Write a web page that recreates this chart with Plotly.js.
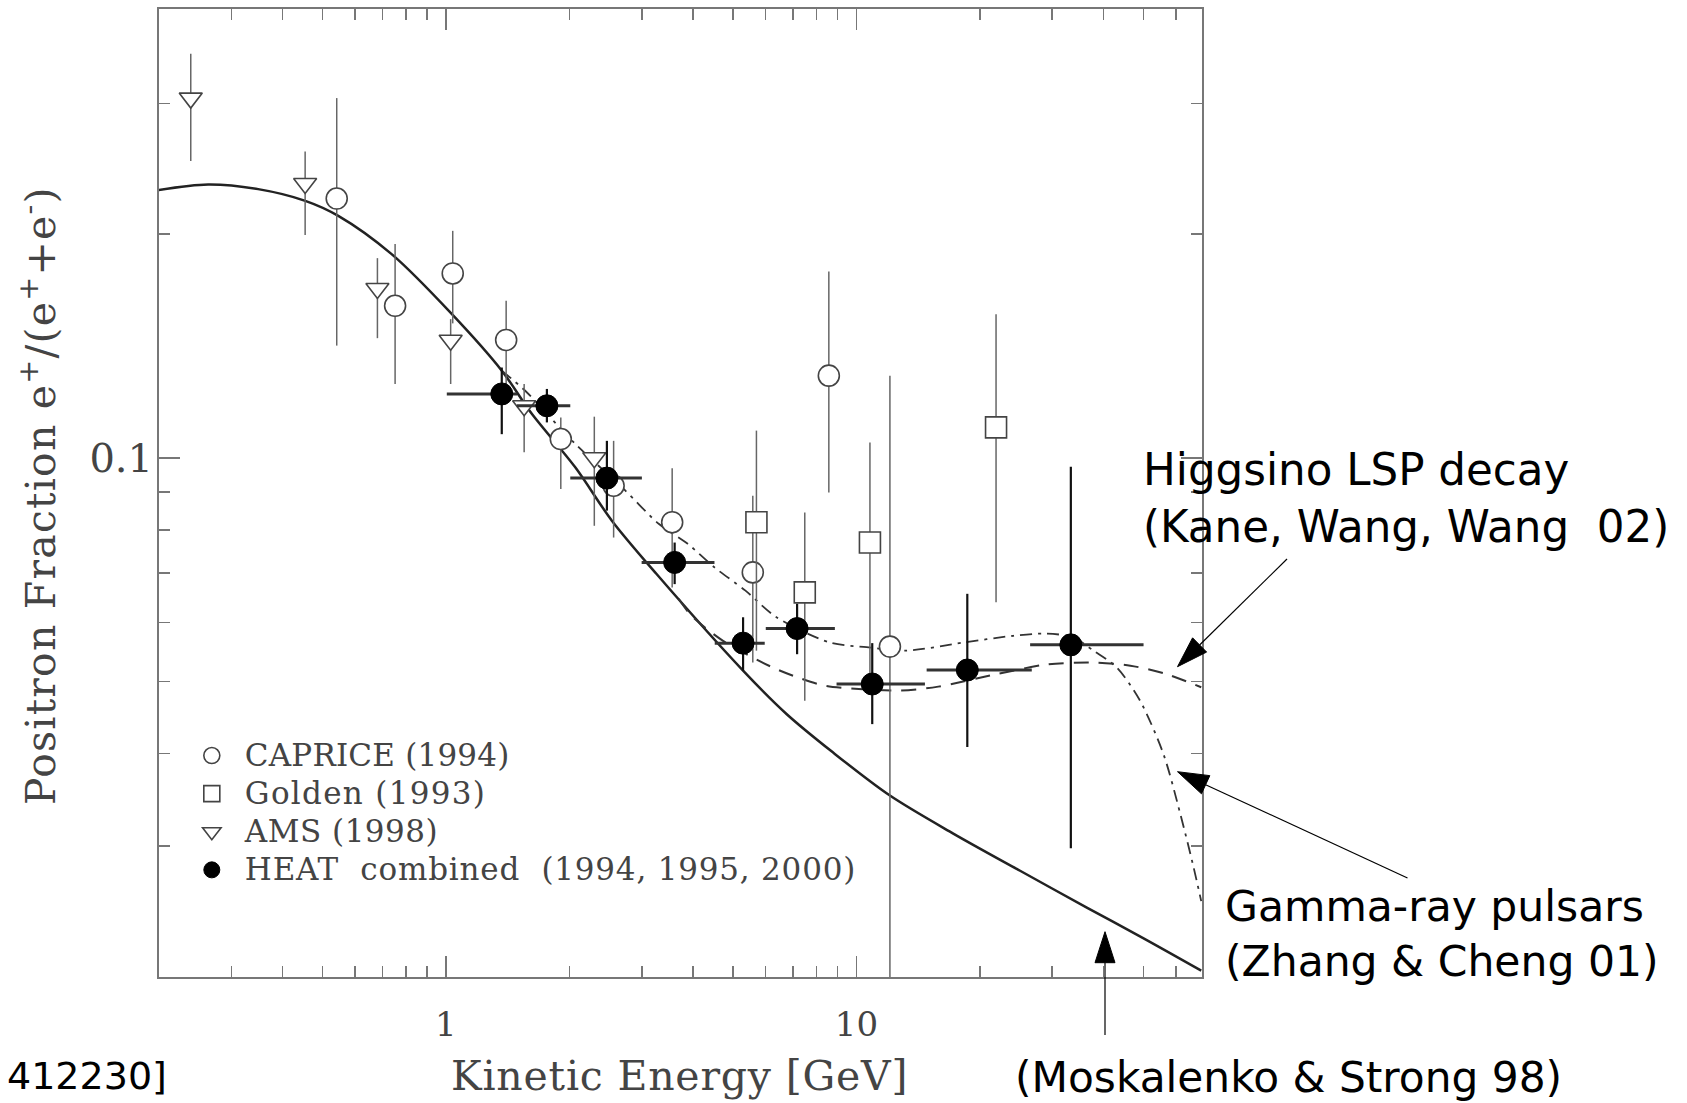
<!DOCTYPE html>
<html><head><meta charset="utf-8">
<script src="https://cdn.plot.ly/plotly-3.0.1.min.js"></script>
<style>html,body{margin:0;padding:0;background:#fff;}#chart{width:1687px;height:1103px;}</style>
</head><body><div id="chart"></div>
<script>
// ---- Data ----
// CAPRICE (1994)
const capE  = [0.542, 0.752, 1.039, 1.402, 1.905, 2.562, 3.558, 5.593, 8.568, 12.07];
const capY  = [0.2234, 0.1602, 0.1771, 0.1441, 0.1060, 0.0917, 0.0819, 0.0701, 0.1290, 0.0557];
const capHi = [0.305, 0.194, 0.2021, 0.1627, 0.1133, 0.1054, 0.0968, 0.0889, 0.1782, 0.129];
const capLo = [0.1416, 0.1257, 0.1517, 0.1257, 0.0908, 0.0781, 0.0669, 0.0530, 0.0898, 0.015];
// Golden (1993)
const golE  = [5.708, 7.486, 10.79, 21.89];
const golY  = [0.0819, 0.0659, 0.0769, 0.1099];
const golHi = [0.1088, 0.0844, 0.1049, 0.156];
const golLo = [0.055, 0.0471, 0.0486, 0.0639];
// AMS (1998)
const amsE  = [0.239, 0.454, 0.681, 1.027, 1.551, 2.299];
const amsY  = [0.305, 0.234, 0.169, 0.144, 0.1175, 0.1000];
const amsHi = [0.350, 0.2585, 0.1857, 0.1537, 0.1257, 0.1136];
const amsLo = [0.251, 0.1995, 0.1449, 0.1257, 0.1017, 0.081];
// HEAT combined (1994, 1995, 2000)
const heatE   = [1.368, 1.762, 2.467, 3.608, 5.296, 7.171, 10.93, 18.63, 33.3];
const heatY   = [0.1219, 0.1175, 0.0939, 0.0723, 0.0563, 0.0589, 0.0496, 0.0518, 0.0560];
const heatElo = [1.005, 1.488, 2.009, 2.998, 4.518, 6.015, 8.947, 14.83, 26.5];
const heatEhi = [1.492, 2.009, 3.002, 4.511, 5.98, 8.863, 14.69, 26.75, 50.07];
const heatHi  = [0.1323, 0.1238, 0.1054, 0.0769, 0.0610, 0.0636, 0.0563, 0.0656, 0.0973];
const heatLo  = [0.1076, 0.1116, 0.0849, 0.0676, 0.0517, 0.0544, 0.0438, 0.0408, 0.0298];
// Moskalenko & Strong 98 (solid)
const msE = [0.199, 0.2634, 0.3488, 0.4544, 0.5468, 0.7375, 1.033, 1.368, 1.619, 2.066, 2.537, 3.256, 5.296, 6.757, 8.778, 12.07, 17.22, 25.05, 36.42, 49.7, 69.2];
const msY = [0.2293, 0.2333, 0.2300, 0.2218, 0.2117, 0.1880, 0.1562, 0.1310, 0.1146, 0.0971, 0.0823, 0.0698, 0.0517, 0.0452, 0.0401, 0.0351, 0.0312, 0.0278, 0.0248, 0.0226, 0.0204];
// Higgsino LSP decay (dashed)
const hgE = [3.69, 3.963, 4.733, 6.212, 7.282, 8.459, 12.65, 15.83, 22.18, 29.1, 37.8, 46.5, 56.0, 69.2];
const hgY = [0.0646, 0.0613, 0.0567, 0.0523, 0.0505, 0.0493, 0.0486, 0.0492, 0.0512, 0.0527, 0.0530, 0.0525, 0.0513, 0.0491];
// Gamma-ray pulsars (dash-dot)
const grE = [1.368, 1.56, 2.066, 2.71, 3.299, 3.882, 4.511, 5.358, 6.388, 8.617, 10.59, 13.2, 18.22, 24.13, 29.1, 33.8, 37.8, 43.1, 49.1, 56.0, 61.5, 66.3, 69.2];
const grY = [0.1310, 0.1231, 0.1044, 0.0908, 0.0815, 0.0766, 0.0712, 0.0663, 0.0610, 0.0564, 0.0556, 0.0550, 0.0564, 0.0576, 0.0580, 0.0573, 0.0550, 0.0522, 0.0471, 0.0399, 0.0332, 0.0281, 0.0253];
// Ticks
const xMajor = [1, 10];
const xMajorText = ['1', '10'];
const xMinor = [0.3,0.4,0.5,0.6,0.7,0.8,0.9,2,3,4,5,6,7,8,9,20,30,40,50,60];
const yMajor = [0.1];
const yMajorText = ['0.1'];
const yMinor = [0.03,0.04,0.05,0.06,0.07,0.08,0.09,0.2,0.3];
// Legend names
const names = ['CAPRICE (1994)', 'Golden (1993)', 'AMS (1998)', 'HEAT\u00a0 combined\u00a0 (1994, 1995, 2000)'];
const nameSpacing = [0.2, 1.3, 0.5, 0.8];

const up = (hi, v) => hi.map((h, i) => h - v[i]);
const dn = (lo, v) => lo.map((l, i) => v[i] - l);
const legName = i => '<span style="font-size:31px;letter-spacing:' + nameSpacing[i] + 'px">' + names[i] + '</span>';

const thinErr = (hi, lo, v) => ({type:'data', symmetric:false, array: up(hi, v), arrayminus: dn(lo, v), color:'#666', thickness:1.5, width:0});

const traces = [
  {x: msE, y: msY, mode:'lines', line:{color:'#222', width:2.5, shape:'spline', smoothing:0.9}, showlegend:false, hoverinfo:'skip'},
  {x: hgE, y: hgY, mode:'lines', line:{color:'#333', width:2, dash:'15px,10px', shape:'spline', smoothing:0.8}, showlegend:false, hoverinfo:'skip'},
  {x: grE, y: grY, mode:'lines', line:{color:'#333', width:1.8, dash:'12px,6px,3px,6px', shape:'spline', smoothing:0.8}, showlegend:false, hoverinfo:'skip'},
  {x: capE, y: capY, name: legName(0), mode:'markers', marker:{symbol:'circle', size:21, color:'#fff', line:{color:'#444', width:1.6}}, error_y: thinErr(capHi, capLo, capY)},
  {x: golE, y: golY, name: legName(1), mode:'markers', marker:{symbol:'square', size:21, color:'#fff', line:{color:'#444', width:1.6}}, error_y: thinErr(golHi, golLo, golY)},
  {x: amsE, y: amsY, name: legName(2), mode:'markers', marker:{symbol:'triangle-down', size:20, color:'#fff', line:{color:'#444', width:1.6}}, error_y: thinErr(amsHi, amsLo, amsY)},
  {x: heatE, y: heatY, name: legName(3), mode:'markers', marker:{symbol:'circle', size:22, color:'#000', line:{color:'#000', width:1}},
   error_x:{type:'data', symmetric:false, array: up(heatEhi, heatE), arrayminus: dn(heatElo, heatE), color:'#333', thickness:3, width:0},
   error_y:{type:'data', symmetric:false, array: up(heatHi, heatY), arrayminus: dn(heatLo, heatY), color:'#111', thickness:2.2, width:0}}
];

// ---- Layout helpers (pixel -> paper) ----
const PL = 159, PW = 1043, PT = 9, PH = 968;
const px = x => (x - PL) / PW;
const py = y => 1 - (y - PT) / PH;
// annotation arrows: [tipX, tipY, tailX, tailY] in page pixels
const arrows = [[1177.5, 666.7, 1287, 559], [1177.5, 771.7, 1407.5, 878], [1105, 931.7, 1105, 1035]];
const shapes = [];
arrows.forEach(([tx, ty, sx, sy]) => {
  const L = 31, W = 10;
  const len = Math.hypot(tx - sx, ty - sy);
  const dx = (tx - sx) / len, dy = (ty - sy) / len;
  const bx = tx - dx * L, by = ty - dy * L;
  const nx = -dy, ny = dx;
  shapes.push({type:'line', xref:'paper', yref:'paper', x0: px(sx), y0: py(sy), x1: px(bx), y1: py(by), line:{color:'#000', width:1.2}});
  shapes.push({type:'path', xref:'paper', yref:'paper',
    path: 'M' + px(tx) + ',' + py(ty) + ' L' + px(bx + nx * W) + ',' + py(by + ny * W) + ' L' + px(bx - nx * W) + ',' + py(by - ny * W) + ' Z',
    fillcolor:'#000', line:{color:'#000', width:1}});
});

const serif = 'DejaVu Serif, Liberation Serif, serif';
const sans = 'DejaVu Sans, Liberation Sans, sans-serif';
const axisCommon = {
  type:'log', showline:true, linecolor:'#777', linewidth:2, mirror:'ticks',
  ticks:'inside', ticklen:21, tickwidth:1.5, tickcolor:'#777',
  tickmode:'array', showgrid:false, zeroline:false
};

const layout = {
  width:1687, height:1103,
  margin:{l:159, r:485, t:9, b:126, pad:0},
  paper_bgcolor:'#fff', plot_bgcolor:'#fff',
  showlegend:true,
  legend:{x:0.019, y:0.2536, xanchor:'left', yanchor:'top', bgcolor:'rgba(0,0,0,0)', borderwidth:0,
          itemwidth:56, font:{family: serif, size:27, color:'#444'}},
  xaxis: Object.assign({}, axisCommon, {
    range:[Math.log10(0.2), Math.log10(69.5)],
    tickvals: xMajor, ticktext: xMajorText, ticklabelstandoff: 16,
    tickfont:{family: serif, size:34, color:'#444'},
    minor:{tickmode:'array', tickvals: xMinor, ticks:'inside', ticklen:11, tickwidth:1.5, tickcolor:'#777', showgrid:false}
  }),
  yaxis: Object.assign({}, axisCommon, {
    range:[Math.log10(0.02), Math.log10(0.402)],
    tickvals: yMajor, ticktext: yMajorText, ticklabelstandoff: -4,
    tickfont:{family: serif, size:40, color:'#444'},
    minor:{tickmode:'array', tickvals: yMinor, ticks:'inside', ticklen:11, tickwidth:1.5, tickcolor:'#777', showgrid:false}
  }),
  shapes: shapes,
  annotations:[
    {xref:'paper', yref:'paper', x:-0.116, y:0.497, xanchor:'center', yanchor:'middle', textangle:-90, showarrow:false,
     text:'<span style="letter-spacing:1.2px">Positron Fraction e<sup>+</sup>/(e<sup>+</sup>+e<sup>-</sup>)</span>', font:{family: serif, size:41, color:'#444'}},
    {xref:'paper', yref:'paper', x:0.4995, y:-0.1023, xanchor:'center', yanchor:'middle', showarrow:false,
     text:'<span style="letter-spacing:0.8px">Kinetic Energy [GeV]</span>', font:{family: serif, size:41, color:'#444'}},
    {xref:'paper', yref:'paper', x:0.9415, y:0.494, xanchor:'left', yanchor:'middle', align:'left', showarrow:false,
     text:'Higgsino LSP decay<br>(Kane, Wang, Wang\u00a0 02)', font:{family: sans, size:43.6, color:'#000'}},
    {xref:'paper', yref:'paper', x:1.0199, y:0.0449, xanchor:'left', yanchor:'middle', align:'left', showarrow:false,
     text:'Gamma-ray pulsars<br>(Zhang &amp; Cheng 01)', font:{family: sans, size:42.5, color:'#000'}},
    {xref:'paper', yref:'paper', x:0.8192, y:-0.1043, xanchor:'left', yanchor:'middle', showarrow:false,
     text:'(Moskalenko &amp; Strong 98)', font:{family: sans, size:42.3, color:'#000'}},
    {xref:'paper', yref:'paper', x:0.0096, y:-0.1023, xanchor:'right', yanchor:'middle', showarrow:false,
     text:'412230]', font:{family: sans, size:38, color:'#000'}}
  ]
};

Plotly.newPlot('chart', traces, layout, {displayModeBar:false, staticPlot:true});
</script></body></html>
